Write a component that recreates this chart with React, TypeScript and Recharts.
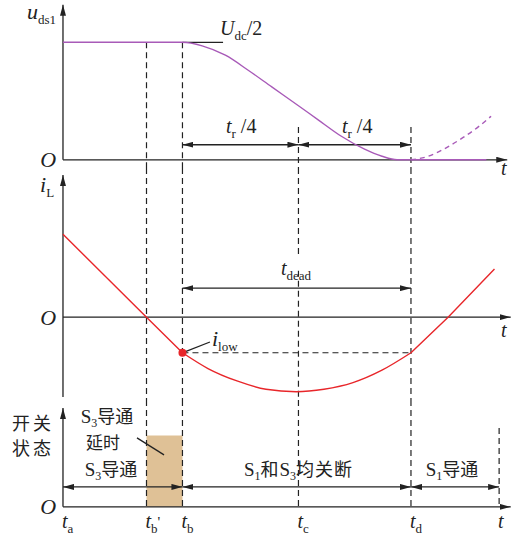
import React from "react";
import {
  ComposedChart,
  Line,
  ReferenceArea,
  ReferenceDot,
  ReferenceLine,
  XAxis,
  YAxis,
} from "recharts";

// switching instants (time units, t_a = 0)
const T_A = 0;
const T_BP = 0.72;
const T_B = 1.03;
const T_C = 2.03;
const T_D = 3.0;
const T_END = 3.76;

const tickTimes = [T_A, T_BP, T_B, T_C, T_D, T_END];
const tickNames = [
  { main: "t", sub: "a", mark: "" },
  { main: "t", sub: "b", mark: "'" },
  { main: "t", sub: "b", mark: "" },
  { main: "t", sub: "c", mark: "" },
  { main: "t", sub: "d", mark: "" },
  { main: "t", sub: "", mark: "" },
];

// u_ds1, normalised to Udc/2
const udsFall = [
  { t: 0, u: 1 },
  { t: 1.03, u: 1 },
  { t: 1.2, u: 0.97 },
  { t: 1.4, u: 0.89 },
  { t: 1.6, u: 0.76 },
  { t: 1.8, u: 0.62 },
  { t: 2.03, u: 0.46 },
  { t: 2.2, u: 0.34 },
  { t: 2.4, u: 0.2 },
  { t: 2.6, u: 0.09 },
  { t: 2.75, u: 0.03 },
  { t: 2.88, u: 0 },
  { t: 3.65, u: 0 },
];
const udsResonant = [
  { t: 3.0, u: 0 },
  { t: 3.15, u: 0.03 },
  { t: 3.3, u: 0.1 },
  { t: 3.45, u: 0.19 },
  { t: 3.58, u: 0.28 },
  { t: 3.69, u: 0.37 },
];

// inductor current
const iS3On = [
  { t: 0, i: 1.0 },
  { t: 0.72, i: 0 },
  { t: 1.03, i: -0.43 },
];
const iDead = [
  { t: 1.03, i: -0.43 },
  { t: 1.25, i: -0.62 },
  { t: 1.5, i: -0.77 },
  { t: 1.75, i: -0.87 },
  { t: 2.01, i: -0.9 },
  { t: 2.25, i: -0.87 },
  { t: 2.5, i: -0.79 },
  { t: 2.75, i: -0.64 },
  { t: 3.0, i: -0.43 },
];
const iS1On = [
  { t: 3.0, i: -0.43 },
  { t: 3.32, i: 0 },
  { t: 3.72, i: 0.58 },
];
const I_LOW = -0.43;

const X_DOMAIN: [number, number] = [-0.543, 3.871];
const SERIF = '"Liberation Serif", "Times New Roman", serif';
const CJK = '"Noto Sans CJK SC", sans-serif';
const INK = "#222";
const PURPLE = "#a85ab8";
const RED = "#e8262a";
const TAN = "#dfc196";

const axisLine = { stroke: INK, strokeWidth: 1.3 };
const arrowEnd = { ...axisLine, markerEnd: "url(#arr)" };
const arrowBoth = { ...axisLine, markerStart: "url(#arr)", markerEnd: "url(#arr)" };
const dashed = { stroke: INK, strokeWidth: 1.2, strokeDasharray: "6 4" };

function seg(key: string, x1: number, y1: number, x2: number, y2: number, style: any) {
  return (
    <ReferenceLine
      key={key}
      segment={[
        { x: x1, y: y1 },
        { x: x2, y: y2 },
      ]}
      ifOverflow="visible"
      {...style}
    />
  );
}

function tag(key: string, x: number, y: number, node: React.ReactNode, anchor = "start", size = 20) {
  return (
    <ReferenceDot
      key={key}
      x={x}
      y={y}
      r={1}
      ifOverflow="visible"
      shape={(p: any) => (
        <text x={p.cx} y={p.cy} textAnchor={anchor} fontFamily={SERIF} fontSize={size} fill={INK}>
          {node}
        </text>
      )}
    />
  );
}

const sym = (main: string, sub: string, after = "") => [
  <tspan key="m" fontStyle="italic">{main}</tspan>,
  <tspan key="s" fontSize={13} dy={5}>{sub}</tspan>,
  after ? <tspan key="a" dy={-5}>{after}</tspan> : null,
];

const sw = (n: string, tail: string) => [
  <tspan key="S">S</tspan>,
  <tspan key="n" fontSize={12} dy={4}>{n}</tspan>,
  <tspan key="c" dy={-4} fontFamily={CJK} fontSize={18}>{tail}</tspan>,
];

const renderTick = (p: any) => {
  const lab = tickNames[tickTimes.indexOf(p.payload.value)];
  if (!lab) return <g />;
  return (
    <text x={p.x - 1} y={p.y + 19} fontFamily={SERIF} fontSize={20} fill={INK}>
      <tspan fontStyle="italic">{lab.main}</tspan>
      {lab.sub && <tspan fontSize={13} dy={5}>{lab.sub}</tspan>}
      {lab.mark && <tspan dy={-6} fontSize={15}>{lab.mark}</tspan>}
    </text>
  );
};

const lineProps = { dot: false, activeDot: false, isAnimationActive: false, strokeWidth: 1.4 } as const;

function VoltagePanel() {
  return (
    <ComposedChart width={512} height={168} margin={{ top: 0, right: 0, bottom: 0, left: 0 }}>
      <XAxis type="number" dataKey="t" domain={X_DOMAIN} allowDataOverflow hide />
      <YAxis type="number" domain={[-0.07, 1.36]} allowDataOverflow hide />
      {seg("ax", 0, 0, 3.83, 0, arrowEnd)}
      {seg("ay", 0, 0, 0, 1.32, arrowEnd)}
      {seg("ext", T_B, 1, 1.38, 1, axisLine)}
      {seg("d1", T_BP, 1, T_BP, -0.07, dashed)}
      {seg("d2", T_B, 1, T_B, -0.07, dashed)}
      {seg("d3", T_C, 0.28, T_C, -0.07, dashed)}
      {seg("d4", T_D, 0.28, T_D, -0.07, dashed)}
      {seg("r1", T_B, 0.128, T_C, 0.128, arrowBoth)}
      {seg("r2", T_C, 0.128, T_D, 0.128, arrowBoth)}
      <Line data={udsFall} dataKey="u" type="monotone" stroke={PURPLE} {...lineProps} />
      <Line data={udsResonant} dataKey="u" type="monotone" stroke={PURPLE} strokeDasharray="5 4" {...lineProps} />
      {tag("uds", -0.31, 1.2, sym("u", "ds1"), "start", 22)}
      {tag("udc", 1.353, 1.064, sym("U", "dc", "/2"))}
      {tag("tr1", 1.405, 0.23, sym("t", "r", " /4"))}
      {tag("tr2", 2.405, 0.23, sym("t", "r", " /4"))}
      {tag("o", -0.06, -0.06, <tspan fontStyle="italic">O</tspan>, "end", 22)}
      {tag("t", 3.776, -0.13, <tspan fontStyle="italic">t</tspan>)}
    </ComposedChart>
  );
}

function CurrentPanel() {
  return (
    <ComposedChart width={512} height={232} margin={{ top: 0, right: 0, bottom: 0, left: 0 }}>
      <XAxis type="number" dataKey="t" domain={X_DOMAIN} allowDataOverflow hide />
      <YAxis type="number" domain={[-1.0, 1.8]} allowDataOverflow hide />
      {seg("ax", 0, 0, 3.86, 0, arrowEnd)}
      {seg("ay", 0, -0.964, 0, 1.715, arrowEnd)}
      {seg("d1", T_BP, 1.8, T_BP, -1.0, dashed)}
      {seg("d2", T_B, 1.8, T_B, -1.0, dashed)}
      {seg("d3a", T_C, 1.8, T_C, 0.72, dashed)}
      {seg("d3b", T_C, 0.56, T_C, -1.0, dashed)}
      {seg("d4", T_D, 1.8, T_D, -1.0, dashed)}
      {seg("dead", T_B, 0.35, T_D, 0.35, arrowBoth)}
      {seg("low", T_B, I_LOW, T_D, I_LOW, dashed)}
      {seg("lead", 1.05, -0.42, 1.267, -0.3, axisLine)}
      <Line data={iS3On} dataKey="i" type="linear" stroke={RED} {...lineProps} />
      <Line data={iDead} dataKey="i" type="monotone" stroke={RED} {...lineProps} />
      <Line data={iS1On} dataKey="i" type="linear" stroke={RED} {...lineProps} />
      <ReferenceDot x={T_B} y={I_LOW} r={4} fill={RED} stroke="none" />
      {tag("il", -0.198, 1.509, sym("i", "L"), "start", 22)}
      {tag("o", -0.06, -0.097, <tspan fontStyle="italic">O</tspan>, "end", 22)}
      {tag("t", 3.776, -0.24, <tspan fontStyle="italic">t</tspan>)}
      {tag("td", 1.879, 0.507, sym("t", "dead"))}
      {tag("ilow", 1.284, -0.35, sym("i", "low"), "start", 22)}
    </ComposedChart>
  );
}

function SwitchPanel() {
  return (
    <ComposedChart width={512} height={135} margin={{ top: 0, right: 0, bottom: 0, left: 0 }}>
      <XAxis
        type="number"
        dataKey="t"
        domain={X_DOMAIN}
        allowDataOverflow
        ticks={tickTimes}
        interval={0}
        axisLine={false}
        tickLine={false}
        tickSize={0}
        tickMargin={0}
        height={26}
        tick={renderTick}
      />
      <YAxis type="number" domain={[-0.03, 1.5]} allowDataOverflow hide />
      <ReferenceArea x1={T_BP} x2={T_B} y1={0} y2={1} fill={TAN} fillOpacity={1} stroke="none" />
      {seg("ax", 0, 0, 3.86, 0, arrowEnd)}
      {seg("ay", 0, 0, 0, 1.387, arrowEnd)}
      {seg("d1", T_BP, 1.5, T_BP, 0, dashed)}
      {seg("d2", T_B, 1.5, T_B, 0, dashed)}
      {seg("d3", T_C, 1.5, T_C, 0, dashed)}
      {seg("d4", T_D, 1.5, T_D, 0, dashed)}
      {seg("d5", T_END, 1.106, T_END, 0, dashed)}
      {seg("a1", T_A, 0.28, T_B, 0.28, arrowBoth)}
      {seg("a2", T_B, 0.28, T_D, 0.28, arrowBoth)}
      {seg("a3", T_D, 0.28, T_END, 0.28, arrowBoth)}
      {seg("lead", 0.638, 0.969, 0.871, 0.73, axisLine)}
      {tag("k1", -0.259, 1.08, <tspan fontFamily={CJK} letterSpacing={3}>开关</tspan>, "middle", 18)}
      {tag("k2", -0.259, 0.73, <tspan fontFamily={CJK} letterSpacing={3}>状态</tspan>, "middle", 18)}
      {tag("s3d", 0.38, 1.18, sw("3", "导通"), "middle", 19)}
      {tag("dly", 0.345, 0.81, <tspan fontFamily={CJK}>延时</tspan>, "middle", 17)}
      {tag("s3", 0.414, 0.435, sw("3", "导通"), "middle", 19)}
      {tag("off", T_C, 0.435, [
        <tspan key="a">S</tspan>,
        <tspan key="b" fontSize={12} dy={4}>1</tspan>,
        <tspan key="c" dy={-4} fontFamily={CJK} fontSize={18} letterSpacing={1}>和</tspan>,
        <tspan key="d">S</tspan>,
        <tspan key="e" fontSize={12} dy={4}>3</tspan>,
        <tspan key="f" dy={-4} fontFamily={CJK} fontSize={18} letterSpacing={1}>均关断</tspan>,
      ], "middle", 19)}
      {tag("s1", 3.353, 0.435, sw("1", "导通"), "middle", 19)}
      {tag("o", -0.06, -0.098, <tspan fontStyle="italic">O</tspan>, "end", 22)}
    </ComposedChart>
  );
}

export default function App() {
  return (
    <div style={{ position: "absolute", left: 0, top: 0, width: 512, height: 535, background: "#fff" }}>
      <style>{".recharts-surface{overflow:visible}"}</style>
      <svg width={0} height={0} style={{ position: "absolute" }}>
        <defs>
          <marker
            id="arr"
            viewBox="0 0 11 6"
            refX={11}
            refY={3}
            markerWidth={11}
            markerHeight={6}
            markerUnits="userSpaceOnUse"
            orient="auto-start-reverse"
          >
            <path d="M0,0 L11,3 L0,6 Z" fill={INK} />
          </marker>
        </defs>
      </svg>
      <div style={{ position: "absolute", left: 0, top: 0 }}>
        <VoltagePanel />
      </div>
      <div style={{ position: "absolute", left: 0, top: 168 }}>
        <CurrentPanel />
      </div>
      <div style={{ position: "absolute", left: 0, top: 400 }}>
        <SwitchPanel />
      </div>
    </div>
  );
}
